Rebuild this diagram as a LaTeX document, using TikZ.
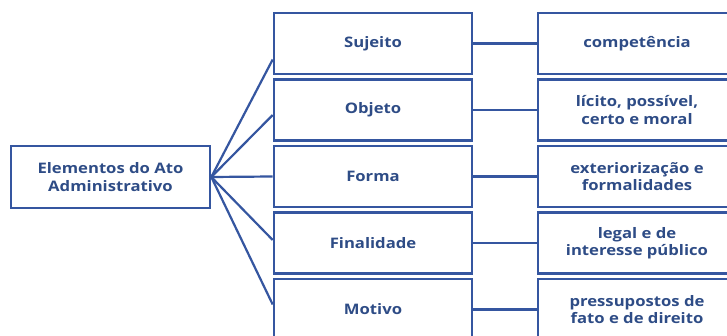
\documentclass[tikz,border=0pt]{standalone}
\usepackage{fontspec}
\setmainfont{Open Sans}[FakeStretch=1.15]
\usetikzlibrary{calc}
\definecolor{boxblue}{HTML}{3556A0}
\definecolor{txtblue}{HTML}{2E4C86}
\begin{document}
\begin{tikzpicture}[x=1pt,y=-1pt,
  box/.style={draw=boxblue, line width=2.6pt, fill=white, minimum width=198pt, minimum height=61pt,
    align=center, inner sep=0pt, font=\fontsize{14.5}{17.5}\selectfont\bfseries, text=txtblue},
  link/.style={draw=boxblue, line width=2.2pt}]
\useasboundingbox (0,0) rectangle (727,336);
\clip (0,0) rectangle (727,336);
\fill[white] (0,0) rectangle (727,336);
\node[box, minimum width=199pt, minimum height=62pt] (root) at (110.5,177) {Elementos do Ato\\Administrativo};
\node[box] (m1) at (373,43.5) {Sujeito};
\node[box] (m2) at (373,110) {Objeto};
\node[box] (m3) at (373,176.5) {Forma};
\node[box] (m4) at (373,243) {Finalidade};
\node[box] (m5) at (373,309.5) {Motivo};
\node[box] (r1) at (637,43.5) {competência};
\node[box] (r2) at (637,110) {lícito, possível,\\certo e moral};
\node[box] (r3) at (637,176.5) {exteriorização e\\formalidades};
\node[box] (r4) at (637,243) {legal e de\\interesse público};
\node[box] (r5) at (637,309.5) {pressupostos de\\fato e de direito};
\draw[link] (root.east) -- ([yshift=-16pt]m1.west);
\draw[link] (root.east) -- ([yshift=-5pt]m2.west);
\draw[link] (root.east) -- (m3.west);
\draw[link] (root.east) -- ([yshift=3pt]m4.west);
\draw[link] (root.east) -- ([yshift=5pt]m5.west);
\foreach \i in {1,...,5} {\draw[link] (m\i.east) -- (r\i.west);}
\end{tikzpicture}
\end{document}
